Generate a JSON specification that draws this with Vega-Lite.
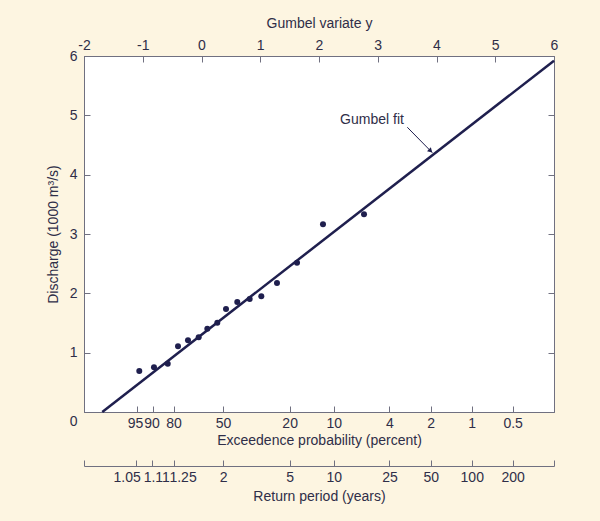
{
  "$schema": "https://vega.github.io/schema/vega-lite/v6.json",
  "width": 470,
  "height": 356,
  "autosize": {"type": "none"},
  "padding": {"left": 84, "top": 56, "right": 46, "bottom": 109},
  "background": "#fdf5e1",
  "config": {
    "view": {"fill": "white", "stroke": "#707080", "strokeWidth": 1},
    "font": "Liberation Sans",
    "axis": {
      "labelFont": "Liberation Sans",
      "titleFont": "Liberation Sans",
      "labelFontSize": 14,
      "titleFontSize": 14,
      "titleFontWeight": "normal",
      "labelColor": "#2f2e48",
      "titleColor": "#2f2e48",
      "domainColor": "#707080",
      "tickColor": "#707080",
      "grid": false,
      "labelFlush": false,
      "labelOverlap": false,
      "tickSize": -6
    }
  },
  "datasets": {
    "obs": [
      {"gumbel": -1.059, "discharge": 0.691},
      {"gumbel": -0.809, "discharge": 0.753},
      {"gumbel": -0.575, "discharge": 0.814},
      {"gumbel": -0.400, "discharge": 1.107},
      {"gumbel": -0.230, "discharge": 1.208},
      {"gumbel": -0.048, "discharge": 1.259},
      {"gumbel": 0.099, "discharge": 1.404},
      {"gumbel": 0.269, "discharge": 1.505},
      {"gumbel": 0.417, "discharge": 1.736},
      {"gumbel": 0.609, "discharge": 1.854},
      {"gumbel": 0.820, "discharge": 1.905},
      {"gumbel": 1.018, "discharge": 1.950},
      {"gumbel": 1.285, "discharge": 2.174},
      {"gumbel": 1.626, "discharge": 2.516},
      {"gumbel": 2.068, "discharge": 3.164},
      {"gumbel": 2.766, "discharge": 3.332}
    ],
    "fit": [
      {"gumbel": -1.689, "discharge": 0},
      {"gumbel": 6, "discharge": 5.921}
    ],
    "note": [
      {"gumbel": 2.902, "discharge": 4.92, "label": "Gumbel fit"}
    ],
    "arrow": [
      {"g1": 3.503, "d1": 4.799, "g2": 3.929, "d2": 4.37, "gh": 3.89, "dh": 4.41}
    ]
  },
  "layer": [
    {
      "data": {"name": "obs"},
      "mark": {"type": "point", "filled": true, "size": 36, "color": "#1f1f4e", "opacity": 1},
      "encoding": {
        "x": {
          "field": "gumbel", "type": "quantitative",
          "scale": {"domain": [-2, 6], "nice": false, "zero": false},
          "axis": {
            "orient": "bottom",
            "title": "Exceedence probability (percent)",
            "values": [-1.097189, -0.834032, -0.475885, 0.366513, 1.49994, 2.250367, 3.198534, 3.901939, 4.600149, 5.295812],
            "labelExpr": "format(100*(1-exp(-exp(-datum.value))), '.2~r')",
            "labelOffset": {"condition": [{"test": "datum.value < -1", "value": -2}, {"test": "datum.value < -0.7", "value": -1}], "value": 0},
            "labelPadding": 10,
            "titlePadding": 3
          }
        },
        "y": {
          "field": "discharge", "type": "quantitative",
          "scale": {"domain": [0, 6], "nice": false, "zero": false},
          "axis": {
            "orient": "left",
            "title": "Discharge (1000 m³/s)",
            "values": [0, 1, 2, 3, 4, 5, 6],
            "labelPadding": 13,
            "titlePadding": 9,
            "labelOffset": {"condition": {"test": "datum.value === 0", "value": 9}, "value": 0}
          }
        }
      }
    },
    {
      "data": {"name": "fit"},
      "mark": {"type": "line", "color": "#1f1f4e", "strokeWidth": 2.5},
      "encoding": {
        "x": {
          "field": "gumbel", "type": "quantitative",
          "scale": {"domain": [-2, 6], "nice": false, "zero": false},
          "axis": {
            "orient": "top",
            "title": "Gumbel variate y",
            "values": [-2, -1, 0, 1, 2, 3, 4, 5, 6],
            "labelExpr": "datum.value < 0 ? '-' + abs(datum.value) : '' + datum.value",
            "labelPadding": 10,
            "titlePadding": 8
          }
        },
        "y": {
          "field": "discharge", "type": "quantitative",
          "scale": {"domain": [0, 6], "nice": false, "zero": false},
          "axis": {
            "orient": "right",
            "title": null,
            "labels": false,
            "values": [1, 2, 3, 4, 5]
          }
        }
      }
    },
    {
      "data": {"name": "note"},
      "mark": {"type": "text", "fontSize": 14, "font": "Liberation Sans", "color": "#2f2e48", "align": "center", "baseline": "middle"},
      "encoding": {
        "x": {
          "field": "gumbel", "type": "quantitative",
          "scale": {"domain": [-2, 6], "nice": false, "zero": false},
          "axis": {
            "orient": "bottom",
            "offset": 54,
            "title": "Return period (years)",
            "values": [-2, -1.113343, -0.837955, -0.475885, 0.366513, 1.49994, 2.250367, 3.198534, 3.901939, 4.600149, 5.295812, 6],
            "labelExpr": "datum.value <= -2 || datum.value >= 6 ? '' : format(1/(1-exp(-exp(-datum.value))), '.3~r')",
            "labelOffset": {"condition": [{"test": "datum.value > -1.2 && datum.value < -1", "value": -9.5}, {"test": "datum.value > -0.9 && datum.value < -0.7", "value": 4}, {"test": "datum.value > -0.5 && datum.value < -0.4", "value": 9}], "value": 0},
            "labelPadding": 10,
            "titlePadding": 5
          }
        },
        "y": {"field": "discharge", "type": "quantitative", "scale": {"domain": [0, 6]}, "axis": null},
        "text": {"field": "label"}
      }
    },
    {
      "data": {"name": "arrow"},
      "mark": {"type": "rule", "color": "#1f1f4e", "strokeWidth": 1},
      "encoding": {
        "x": {"field": "g1", "type": "quantitative", "axis": null},
        "y": {"field": "d1", "type": "quantitative", "axis": null},
        "x2": {"field": "g2"},
        "y2": {"field": "d2"}
      }
    },
    {
      "data": {"name": "arrow"},
      "mark": {"type": "point", "shape": "triangle", "filled": true, "size": 30, "angle": 135, "color": "#1f1f4e", "opacity": 1},
      "encoding": {
        "x": {"field": "gh", "type": "quantitative", "axis": null},
        "y": {"field": "dh", "type": "quantitative", "axis": null}
      }
    }
  ],
  "resolve": {"axis": {"x": "independent", "y": "independent"}}
}
